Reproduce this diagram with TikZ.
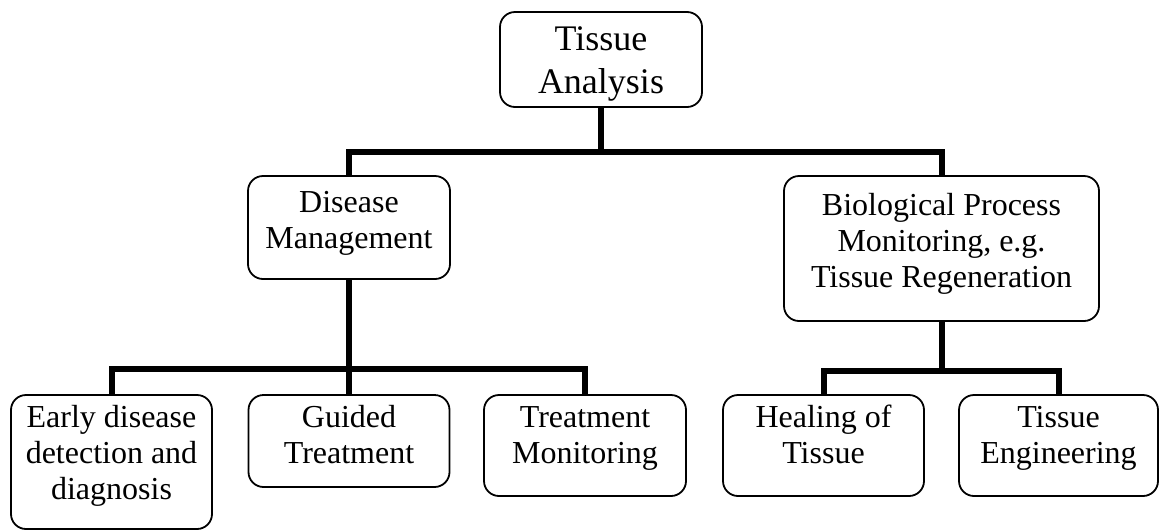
\documentclass[tikz,border=0pt]{standalone}
\usepackage{fontspec}
\setmainfont{Liberation Serif}
\newcommand{\boxtext}[4]{\parbox[c][#2][t]{#1}{\centering\rule{0pt}{#3}#4}}

\begin{document}
\begin{tikzpicture}[x=1pt,y=-1pt,
  box/.style={draw, line width=1.8pt, rounded corners=15pt, inner sep=0pt, fill=white, font=\fontsize{32}{36}\selectfont},
  conn/.style={line width=6pt}]
\useasboundingbox (0,0) rectangle (1159,531);
\node[box, font=\fontsize{36}{43}\selectfont] (ta) at (601,59.5) {\boxtext{202pt}{95pt}{38pt}{Tissue\\Analysis}};
\node[box] (dm) at (349,227.5) {\boxtext{202pt}{103pt}{36pt}{Disease\\Management}};
\node[box] (bio) at (941.5,248.5) {\boxtext{315pt}{145pt}{39pt}{Biological Process\\Monitoring, e.g.\\Tissue Regeneration}};
\node[box] (early) at (111.5,462) {\boxtext{201pt}{134pt}{32pt}{Early disease\\detection and\\diagnosis}};
\node[box] (guided) at (349,441) {\boxtext{201pt}{92pt}{32pt}{Guided\\Treatment}};
\node[box] (tmon) at (585,445.5) {\boxtext{202pt}{101pt}{32pt}{Treatment\\Monitoring}};
\node[box] (heal) at (823.5,445.5) {\boxtext{201pt}{101pt}{32pt}{Healing of\\Tissue}};
\node[box] (teng) at (1058.5,445.5) {\boxtext{199pt}{101pt}{32pt}{Tissue\\Engineering}};
\draw[conn] (ta.south) -- ++(0,44) coordinate (j1);
\draw[conn] (dm.north) |- (j1) -| (bio.north);
\draw[conn] (dm.south) -- ++(0,89) coordinate (j2);
\draw[conn] (early.north) |- (j2) -| (tmon.north);
\draw[conn] (j2) -- (guided.north);
\draw[conn] (bio.south) -- ++(0,49) coordinate (j3);
\draw[conn] (heal.north) |- (j3) -| (teng.north);
\end{tikzpicture}
\end{document}
